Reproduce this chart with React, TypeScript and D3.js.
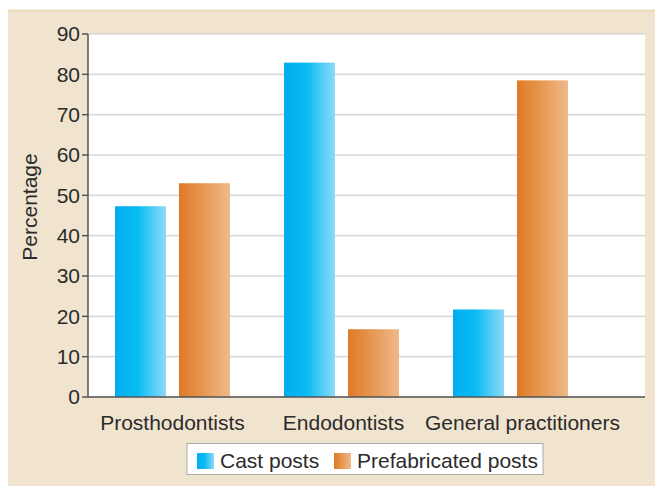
import * as d3 from "d3"

const categories = ["Prosthodontists", "Endodontists", "General practitioners"]
const seriesNames = ["Cast posts", "Prefabricated posts"]
const castPosts = [47.3, 82.9, 21.7]
const prefabricatedPosts = [53.0, 16.8, 78.5]
const yTicks = [0, 10, 20, 30, 40, 50, 60, 70, 80, 90]

const W = 655
const H = 486
const plot = { left: 88, right: 645, top: 34, bottom: 397 }
const font = "'Liberation Sans', Arial, Helvetica, sans-serif"
const textColor = "#2b2b2b"
const fs = 21

export default function App() {
  const x = d3.scaleBand<string>().domain(categories).range([plot.left, 595]).padding(0)
  const xSub = d3
    .scaleBand<string>()
    .domain(seriesNames)
    .range([0, x.bandwidth()])
    .paddingInner(0.203)
    .paddingOuter(0.422)
  const y = d3.scaleLinear().domain([0, 90]).range([plot.bottom, plot.top])

  const values = [castPosts, prefabricatedPosts]
  const fills = ["url(#gradCast)", "url(#gradPrefab)"]
  const labelShift = [0, 2, 12]

  return (
    <svg
      width={W}
      height={H}
      style={{ position: "absolute", left: 0, top: 0 }}
      fontFamily={font}
    >
      <defs>
        <linearGradient id="gradCast" x1="0" x2="1" y1="0" y2="0">
          <stop offset="0" stopColor="#00adef" />
          <stop offset="0.45" stopColor="#0abcf2" />
          <stop offset="1" stopColor="#8fd9f8" />
        </linearGradient>
        <linearGradient id="gradPrefab" x1="0" x2="1" y1="0" y2="0">
          <stop offset="0" stopColor="#df7a26" />
          <stop offset="0.45" stopColor="#e6964f" />
          <stop offset="1" stopColor="#f0b98a" />
        </linearGradient>
      </defs>

      {/* page background */}
      <rect x={0} y={0} width={W} height={H} fill="#ffffff" />
      <rect x={8} y={10} width={W - 8} height={H - 10} fill="#f0e4cf" />
      <line x1={8} x2={W} y1={10.5} y2={10.5} stroke="#ecd6ad" strokeWidth={1.5} />

      {/* plot area */}
      <rect
        x={plot.left}
        y={plot.top}
        width={plot.right - plot.left}
        height={plot.bottom - plot.top}
        fill="#ffffff"
      />

      {/* grid */}
      {yTicks.map((t) => (
        <line
          key={"g" + t}
          x1={plot.left}
          x2={plot.right}
          y1={y(t)}
          y2={y(t)}
          stroke="#d9d9d9"
          strokeWidth={1.6}
        />
      ))}

      {/* bars */}
      {categories.map((c, i) => (
        <g key={c} transform={`translate(${x(c)},0)`}>
          {seriesNames.map((s, j) => (
            <rect
              key={s}
              x={xSub(s)}
              y={y(values[j][i])}
              width={xSub.bandwidth()}
              height={plot.bottom - y(values[j][i])}
              fill={fills[j]}
            />
          ))}
        </g>
      ))}

      {/* axes */}
      <line x1={plot.left} x2={plot.left} y1={plot.top} y2={plot.bottom} stroke="#555" strokeWidth={1.5} />
      <line x1={plot.left} x2={plot.right} y1={plot.bottom} y2={plot.bottom} stroke="#555" strokeWidth={1.5} />
      {yTicks.map((t) => (
        <g key={"t" + t}>
          <line x1={plot.left - 6} x2={plot.left} y1={y(t)} y2={y(t)} stroke="#555" strokeWidth={1.5} />
          <text
            x={plot.left - 8}
            y={y(t)}
            dy="0.35em"
            textAnchor="end"
            fontSize={fs}
            fill={textColor}
          >
            {t}
          </text>
        </g>
      ))}

      {categories.map((c, i) => (
        <text
          key={"l" + c}
          x={(x(c) ?? 0) + x.bandwidth() / 2 + labelShift[i]}
          y={430}
          textAnchor="middle"
          fontSize={fs}
          fill={textColor}
        >
          {c}
        </text>
      ))}

      <text
        transform={`translate(37,207) rotate(-90)`}
        textAnchor="middle"
        fontSize={fs}
        fill={textColor}
      >
        Percentage
      </text>

      {/* legend */}
      <g>
        <rect x={187} y={443.5} width={356} height={31} fill="#ffffff" stroke="#a9a9a9" strokeWidth={1} />
        <rect x={197} y={453} width={17} height={16} fill="url(#gradCast)" />
        <text x={220} y={468} fontSize={fs} fill={textColor}>
          {seriesNames[0]}
        </text>
        <rect x={334} y={453} width={17} height={16} fill="url(#gradPrefab)" />
        <text x={357} y={468} fontSize={fs} fill={textColor}>
          {seriesNames[1]}
        </text>
      </g>
    </svg>
  )
}
